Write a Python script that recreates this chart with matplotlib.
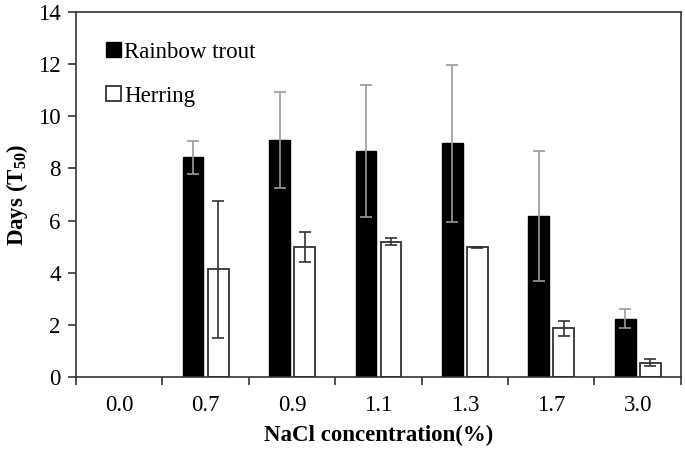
import numpy as np
import matplotlib
matplotlib.use('Agg')
import matplotlib.pyplot as plt
from matplotlib.ticker import FixedLocator

# NaCl concentration groups
concentrations = ["0.0", "0.7", "0.9", "1.1", "1.3", "1.7", "3.0"]
trout_days = [np.nan, 8.42, 9.09, 8.67, 8.96, 6.18, 2.24]
trout_err = [np.nan, 0.63, 1.85, 2.52, 3.02, 2.50, 0.36]
herring_days = [np.nan, 4.14, 4.99, 5.19, 4.98, 1.88, 0.56]
herring_err = [np.nan, 2.62, 0.57, 0.14, 0.02, 0.29, 0.15]

plt.rcParams['font.family'] = ['Liberation Serif', 'DejaVu Serif']
plt.rcParams['mathtext.fontset'] = 'custom'
plt.rcParams['mathtext.rm'] = 'Liberation Serif'
plt.rcParams['mathtext.bf'] = 'Liberation Serif:bold'

fig = plt.figure(figsize=(6.85, 4.55), dpi=100)
ax = fig.add_axes([0.111, 0.171, 0.883, 0.803])

x = np.arange(len(concentrations))
w = 0.24
off = 0.145

ax.bar(x - off, trout_days, w, color='black', edgecolor='black', linewidth=1,
       yerr=trout_err, error_kw=dict(ecolor='#9a9a9a', elinewidth=1.2, capsize=4, capthick=1.2),
       label='Rainbow trout', zorder=2)
ax.bar(x + off, herring_days, w, color='white', edgecolor='#333333', linewidth=1.3,
       yerr=herring_err, error_kw=dict(ecolor='#333333', elinewidth=1.2, capsize=4, capthick=1.2),
       label='Herring', zorder=2)

ax.set_xlim(-0.5, len(concentrations) - 0.5)
ax.set_ylim(0, 14)
ax.set_yticks(np.arange(0, 15, 2))
ax.set_xticks(x)
ax.set_xticklabels(concentrations)
ax.xaxis.set_minor_locator(FixedLocator(np.arange(-0.5, len(concentrations), 1.0)))
ax.tick_params(axis='x', which='major', length=0, pad=13, labelsize=16.5)
ax.tick_params(axis='x', which='minor', length=6, width=1.2, color='#333333', direction='out')
ax.tick_params(axis='y', length=6, width=1.2, color='#333333', labelsize=16.5, pad=5)

for s in ax.spines.values():
    s.set_linewidth(1.2)
    s.set_color('#333333')

ax.set_xlabel('NaCl concentration(%)', fontsize=16.5, fontweight='bold', labelpad=6)
ax.set_ylabel('Days (T$_{\\mathbf{50}}$)', fontsize=16.5, fontweight='bold', labelpad=6)

ax.legend(loc='upper left', bbox_to_anchor=(0.015, 0.975), frameon=False, fontsize=16.5,
          handlelength=0.65, handleheight=0.65, handletextpad=0.15, labelspacing=1.0)

fig.savefig('out.png', dpi=100)
